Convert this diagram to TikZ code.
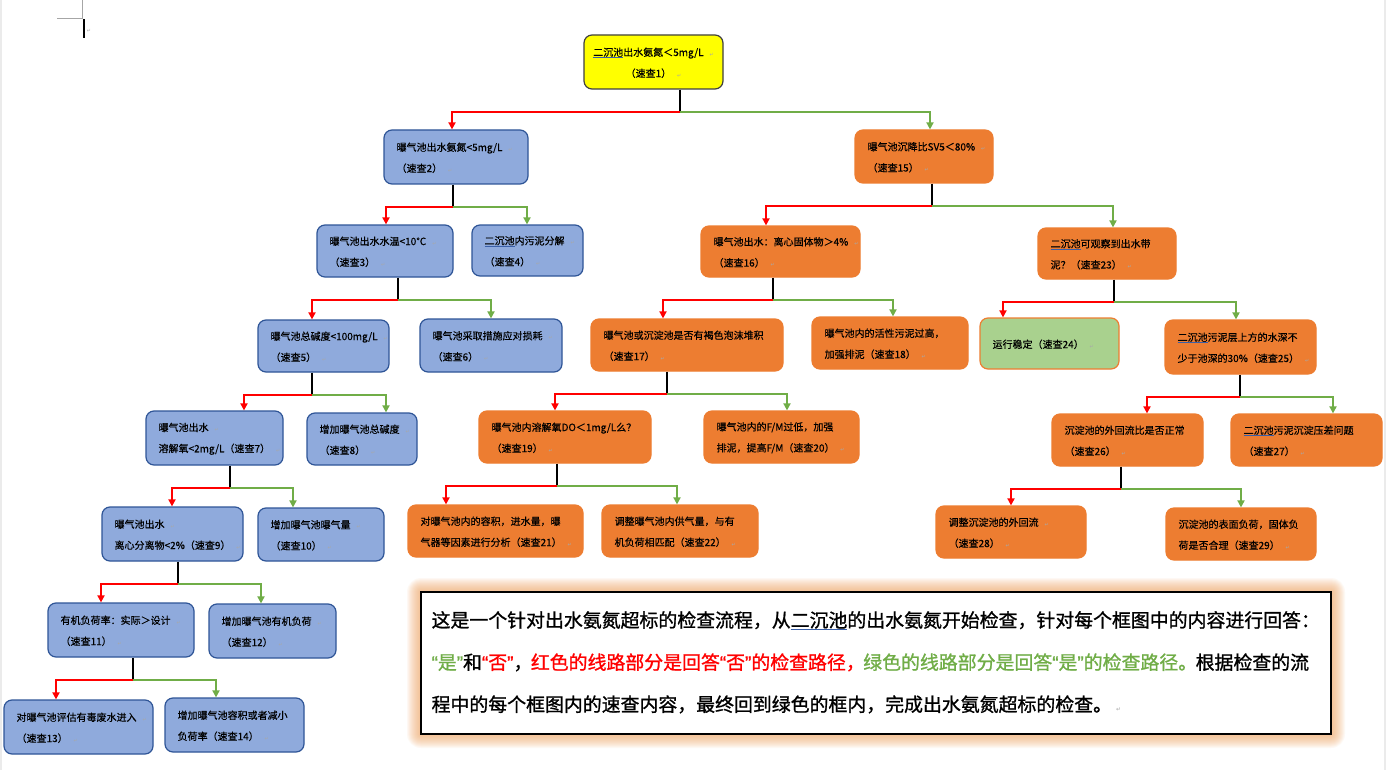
\documentclass[tikz,border=0pt]{standalone}
\usepackage{fontspec}
\setmainfont{Noto Sans CJK SC}
\newfontfamily\boxfont[FakeBold=0.35]{Noto Sans CJK SC}
\newfontfamily\notefont[FakeBold=1.1]{Noto Sans CJK SC}
\newfontfamily\djv{DejaVu Sans}
\newfontfamily\qf[FakeBold=1.1]{Liberation Sans}
\usetikzlibrary{arrows.meta}
\definecolor{bfill}{HTML}{8FAADC}
\definecolor{bdraw}{HTML}{2F5597}
\definecolor{ofill}{HTML}{ED7D31}
\definecolor{gfill}{HTML}{A9D18E}
\definecolor{yfill}{HTML}{FFFF00}
\definecolor{lred}{HTML}{FF0000}
\definecolor{lgreen}{HTML}{70AD47}
\definecolor{ulblue}{HTML}{3A5FA8}
\definecolor{retgray}{HTML}{A8A8A8}
\definecolor{glow}{HTML}{F4A460}
\newcommand\ul[1]{{\setbox0\hbox{#1}\rlap{\color{ulblue}\rule[-2.4pt]{\wd0}{1pt}}\box0}}
\newcommand\rt{\hspace{6pt}{\djv\fontsize{5}{5}\selectfont\color{retgray}↵}}
\newcommand\oq{{\qf “}}
\newcommand\cq{{\qf ”}}
\newcommand\pk{\hspace{-1.5pt}}
\newcommand\bx[7]{%
 \pgfmathsetmacro\mycx{(#3+#5)/2}%
 \pgfmathsetmacro\mycy{(#4+#6)/2}%
 \pgfmathsetmacro\mybw{#5-#3}%
 \pgfmathsetmacro\mybh{#6-#4}%
 \node[#1, minimum width=\mybw pt, minimum height=\mybh pt] (#2) at (\mycx,\mycy) {};
 \node[boxtext, anchor=west] (#2-t) at ([xshift=13pt,yshift=-0.8pt]#2.west) {#7};}
\newcommand\branch[6]{%
 \draw[stem] (#1.south -| #2,0) -- ++(0,22) coordinate (#1-j);
 \draw[noline] (#1-j) -| (#3.north -| #4,0);
 \draw[yesline] (#1-j) -| (#5.north -| #6,0);}
\tikzset{
 box/.style={rounded corners=8pt, line width=1.2pt, inner sep=0pt},
 bluebox/.style={box, fill=bfill, draw=bdraw},
 orbox/.style={box, fill=ofill, draw=ofill},
 grbox/.style={box, fill=gfill, draw=ofill},
 yelbox/.style={box, fill=yfill, draw=black!75},
 boxtext/.style={inner sep=0pt, align=left, font=\boxfont\fontsize{10}{21}\selectfont, text=black},
 stem/.style={line width=2pt, black},
 noline/.style={line width=2pt, lred, -{Triangle[length=7pt,width=7pt]}},
 yesline/.style={line width=2pt, lgreen, -{Triangle[length=7pt,width=7pt]}},
 bigtext/.style={anchor=west, inner sep=0pt, font=\notefont\fontsize{18.9}{20}\selectfont, text=black},
}
\begin{document}
\begin{tikzpicture}[x=1pt,y=-1pt]
\useasboundingbox (0,0) rectangle (1388,770);
\fill[white] (0,0) rectangle (1388,770);
% page marks
\draw[black!35, line width=0.8pt] (57,18) -- (82,18) -- (82,0);
\draw[black!8, line width=1.5pt] (1385,0) -- (1385,770);
\draw[black!8, line width=1.5pt] (1,0) -- (1,770);
\fill[black] (82.5,19) rectangle (84.5,38);
\node[inner sep=0pt] (cur) at (89,31) {\djv\fontsize{5}{5}\selectfont\color{retgray}↵};

% top box
\node[yelbox, minimum width=139pt, minimum height=54pt] (b1) at (653.5,62) {};
\node[boxtext, align=center] (b1-t) at ([yshift=-0.8pt]b1.center) {\ul{二沉池}出水氨氮＜5mg/L\rt\\（速查1）\rt};

% left (blue) side
\bx{bluebox}{b2}{384}{130}{528}{184}{曝气池出水氨氮<5mg/L\rt\\（速查2）\rt}
\bx{bluebox}{b3}{317}{225}{453}{277}{曝气池出水水温<10℃\rt\\（速查3）\rt}
\bx{bluebox}{b4}{472}{225}{583}{276}{\ul{二沉池}内污泥分解\rt\\（速查4）\rt}
\bx{bluebox}{b5}{258}{320}{389}{372}{曝气池总碱度<100mg/L\rt\\（速查5）\rt}
\bx{bluebox}{b6}{420}{319}{562}{372}{曝气池采取措施应对损耗\rt\\（速查6）\rt}
\bx{bluebox}{b7}{146}{411}{283}{465}{曝气池出水\rt\\溶解氧<2mg/L（速查7）\rt}
\bx{bluebox}{b8}{307}{413}{417}{465}{增加曝气池总碱度\rt\\（速查8）\rt}
\bx{bluebox}{b9}{102}{507}{243}{561}{曝气池出水\rt\\离心分离物<2\%（速查9）\rt}
\bx{bluebox}{b10}{258}{508}{384}{561}{增加曝气池曝气量\rt\\（速查10）\rt}
\bx{bluebox}{b11}{48}{603}{194}{657}{有机负荷率：实际＞设计\rt\\（速查11）\rt}
\bx{bluebox}{b12}{209}{604}{336}{658}{增加曝气池有机负荷\rt\\（速查12）\rt}
\bx{bluebox}{b13}{4}{700}{153}{754}{对曝气池评估有毒废水进入\rt\\（速查13）\rt}
\bx{bluebox}{b14}{165}{698}{304}{752}{增加曝气池容积或者减小\\负荷率（速查14）\rt}

% right (orange) side
\bx{orbox}{b15}{855}{130}{993}{183}{曝气池沉降比SV5＜80\%\rt\\（速查15）\rt}
\bx{orbox}{b16}{701}{226}{860}{277}{曝气池出水：离心固体物＞4\%\rt\\（速查16）\rt}
\bx{orbox}{b23}{1038}{228}{1176}{279}{\ul{二沉池}可观察到出水带\\泥？（速查23）\rt}
\bx{orbox}{b17}{591}{319}{783}{371}{曝气池或沉淀池是否有褐色泡沫堆积\\（速查17）\rt}
\bx{orbox}{b18}{812}{317}{968}{369}{曝气池内的活性污泥过高，\\加强排泥（速查18）\rt}
\bx{grbox}{b24}{980}{318}{1119}{369}{运行稳定（速查24）\rt}
\bx{orbox}{b25}{1165}{320}{1316}{374}{\ul{二沉池}污泥层上方的水深不\\少于池深的30\%（速查25）\rt}
\bx{orbox}{b19}{479}{411}{651}{463}{曝气池内溶解氧DO＜1mg/L么？\\（速查19）\rt}
\bx{orbox}{b20}{704}{411}{859}{463}{曝气池内的F/M过低，加强\\排泥，提高F/M（速查20）\rt}
\bx{orbox}{b26}{1052}{414}{1203}{466}{沉淀池的外回流比是否正常\\（速查26）\rt}
\bx{orbox}{b27}{1231}{414}{1382}{466}{\ul{二沉池}污泥沉淀压差问题\\（速查27）\rt}
\bx{orbox}{b21}{408}{505}{583}{557}{对曝气池内的容积，进水量，曝\\气器等因素进行分析（速查21）\rt}
\bx{orbox}{b22}{602}{505}{758}{557}{调整曝气池内供气量，与有\\机负荷相匹配（速查22）\rt}
\bx{orbox}{b28}{936}{506}{1086}{558}{调整沉淀池的外回流\rt\\（速查28）\rt}
\bx{orbox}{b29}{1166}{508}{1316}{560}{沉淀池的表面负荷，固体负\\荷是否合理（速查29）\rt}

% connectors
\branch{b1}{680}{b2}{452}{b15}{930}
\branch{b2}{453}{b3}{386}{b4}{527}
\branch{b3}{398}{b5}{312}{b6}{491}
\branch{b5}{312}{b7}{244}{b8}{386}
\branch{b7}{230}{b9}{172}{b10}{293}
\branch{b9}{178}{b11}{101}{b12}{261}
\branch{b11}{133}{b13}{56}{b14}{216}
\branch{b15}{932}{b16}{766}{b23}{1113}
\branch{b16}{773}{b17}{663}{b18}{893}
\branch{b23}{1114}{b24}{1003}{b25}{1236}
\branch{b17}{667}{b19}{555}{b20}{787}
\branch{b25}{1240}{b26}{1147}{b27}{1333}
\branch{b19}{557}{b21}{446}{b22}{677}
\branch{b26}{1121}{b28}{1011}{b29}{1241}

% explanation box with glow
\foreach \k in {1,...,14}{
  \fill[glow, opacity=0.065, rounded corners=\k pt] (421-\k,592-\k) rectangle (1331+\k,734+\k);
}
\node[draw=black, line width=1.2pt, fill=white, minimum width=910pt, minimum height=142pt, inner sep=0pt] (note) at (876,663) {};
\node[bigtext] (t1) at ([xshift=11pt,yshift=-29pt]note.north west) {这是一个针对出水氨氮超标的检查流程，从\ul{二沉池}的出水氨氮开始检查，针对每个框图中的内容进行回答：};
\node[bigtext] (t2) at ([xshift=11pt,yshift=-71pt]note.north west) {{\color{lgreen}\oq 是\cq}和{\color{lred}\oq 否\cq}，\pk{\color{lred}红色的线路部分是回答\oq 否\cq 的检查路径，\pk}{\color{lgreen}绿色的线路部分是回答\oq 是\cq 的检查路径。\pk}根据检查的流};
\node[bigtext] (t3) at ([xshift=11pt,yshift=-113pt]note.north west) {程中的每个框图内的速查内容，最终回到绿色的框内，完成出水氨氮超标的检查。\hspace{4pt}{\djv\fontsize{6}{6}\selectfont\color{retgray}↵}};
\end{tikzpicture}
\end{document}
